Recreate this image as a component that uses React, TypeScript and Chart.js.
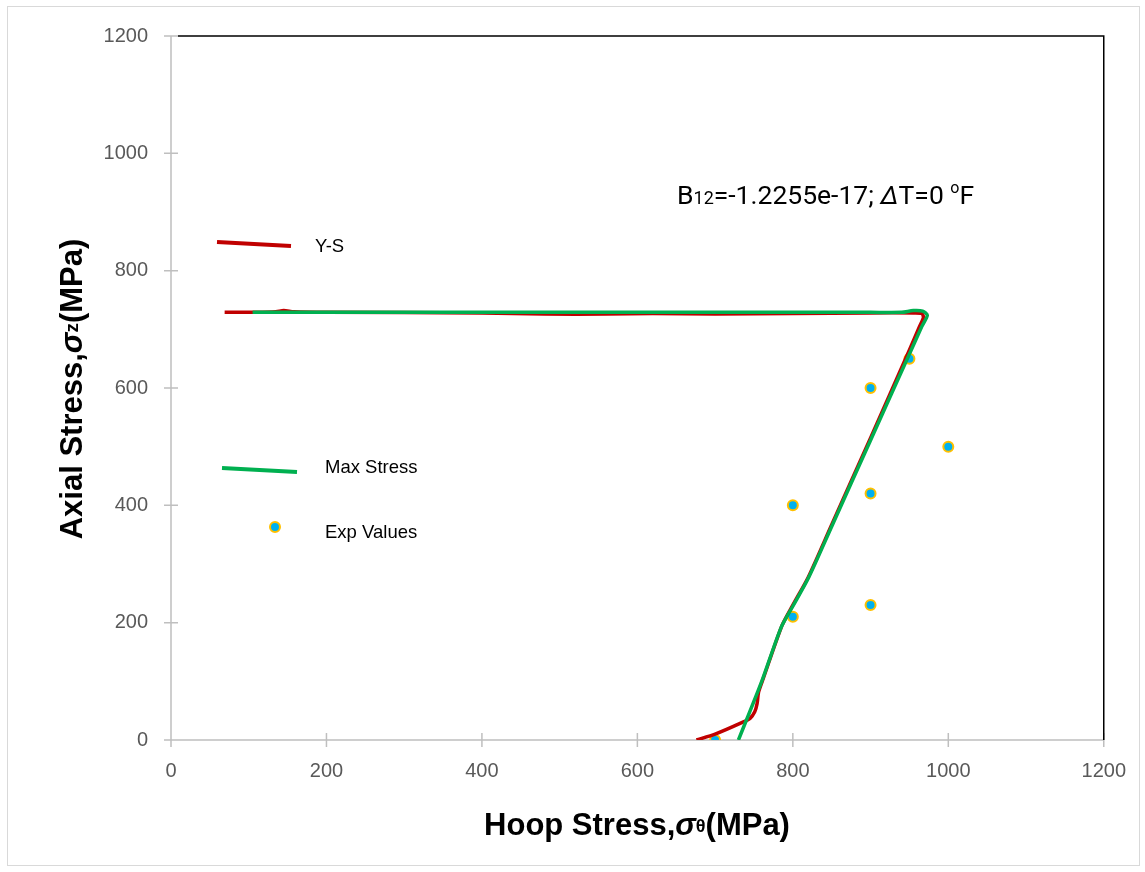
import React, { useEffect, useRef } from "react";
import { Chart, registerables } from "chart.js";

Chart.register(...registerables);

// ---- data ----
const ysX = [676, 700, 735, 745, 751, 754, 756, 762, 786, 800, 820, 850, 900, 950, 963, 968, 966, 955, 900, 800, 700, 620, 560, 480, 400, 200, 158, 145, 135, 110, 69];
const ysY = [0, 10, 30, 37, 48, 62, 82, 105, 195, 230, 278, 367, 515, 665, 705, 720, 727, 728, 728, 727, 726, 727, 726, 726, 728, 729, 730, 732, 730, 729, 729];

const msX = [730, 760, 785, 800, 820, 850, 900, 950, 966, 973, 967, 955, 940, 900, 600, 300, 105];
const msY = [0, 100, 192, 228, 276, 364, 511, 658, 705, 724, 731, 732, 729, 729, 729, 729, 729];

const expX = [700, 800, 800, 900, 900, 900, 950, 1000];
const expY = [0, 210, 400, 230, 420, 600, 650, 500];

const xTickValues = [0, 200, 400, 600, 800, 1000, 1200];
const yTickValues = [0, 200, 400, 600, 800, 1000, 1200];

const seriesNames = ["Y-S", "Max Stress", "Exp Values"];
const annotationText = { b: "B", sub: "12", main: "=-1.2255e-17; ", delta: "Δ", rest: "T=0 ", deg: "o", unit: "F" };

const RED = "#C00000";
const GREEN = "#00B050";
const BLUE = "#00B0F0";
const GOLD = "#FFC000";

type Run = { text: string; font: string; dy?: number };

function drawRuns(ctx: CanvasRenderingContext2D, runs: Run[], x: number, y: number, align: "left" | "center") {
  let total = 0;
  const widths = runs.map((r) => {
    ctx.font = r.font;
    const w = ctx.measureText(r.text).width;
    total += w;
    return w;
  });
  let cx = align === "center" ? x - total / 2 : x;
  ctx.textAlign = "left";
  ctx.textBaseline = "alphabetic";
  runs.forEach((r, i) => {
    ctx.font = r.font;
    ctx.fillText(r.text, cx, y + (r.dy || 0));
    cx += widths[i];
  });
}

const decor = {
  id: "decor",
  beforeDatasetsDraw(chart: any) {
    const { ctx, chartArea, scales } = chart;
    const { left, right, top, bottom } = chartArea;
    ctx.save();
    ctx.strokeStyle = "#d9d9d9";
    ctx.lineWidth = 1;
    ctx.strokeRect(7.5, 6.5, 1132, 859);

    ctx.strokeStyle = "#bfbfbf";
    ctx.lineWidth = 1.5;
    ctx.beginPath();
    ctx.moveTo(left, top);
    ctx.lineTo(left, bottom);
    ctx.lineTo(right, bottom);
    yTickValues.forEach((v) => {
      const py = scales.y.getPixelForValue(v);
      ctx.moveTo(left - 7, py);
      ctx.lineTo(left + 7, py);
    });
    xTickValues.forEach((v) => {
      const px = scales.x.getPixelForValue(v);
      ctx.moveTo(px, bottom - 7);
      ctx.lineTo(px, bottom + 7);
    });
    ctx.stroke();

    ctx.strokeStyle = "#000";
    ctx.lineWidth = 1.5;
    ctx.beginPath();
    ctx.moveTo(left + 7, top);
    ctx.lineTo(right, top);
    ctx.lineTo(right, bottom);
    ctx.stroke();
    ctx.restore();
  },
  afterDraw(chart: any) {
    const { ctx } = chart;
    ctx.save();
    ctx.fillStyle = "#000";
    // axis titles
    const tf = '"Liberation Sans", Arial, sans-serif';
    drawRuns(
      ctx,
      [
        { text: "Hoop Stress,", font: `bold 31px ${tf}` },
        { text: "σ", font: `italic bold 31px ${tf}` },
        { text: "θ", font: `bold 18px ${tf}`, dy: -3 },
        { text: "(MPa)", font: `bold 31px ${tf}` },
      ],
      637,
      835,
      "center"
    );
    ctx.save();
    ctx.translate(82, 389);
    ctx.rotate(-Math.PI / 2);
    drawRuns(
      ctx,
      [
        { text: "Axial Stress,", font: `bold 31px ${tf}` },
        { text: "σ", font: `italic bold 31px ${tf}` },
        { text: "z", font: `bold 19px ${tf}`, dy: -4 },
        { text: "(MPa)", font: `bold 31px ${tf}` },
      ],
      0,
      0,
      "center"
    );
    ctx.restore();

    // annotation
    const af = "Roboto, sans-serif";
    drawRuns(
      ctx,
      [
        { text: annotationText.b, font: `26.5px ${af}` },
        { text: annotationText.sub, font: `18px ${af}` },
        { text: annotationText.main, font: `26.5px ${af}` },
        { text: annotationText.delta, font: `italic 26.5px ${af}` },
        { text: annotationText.rest, font: `26.5px ${af}` },
        { text: annotationText.deg, font: `16px ${af}`, dy: -11 },
        { text: annotationText.unit, font: `26.5px ${af}` },
      ],
      677,
      204,
      "left"
    );

    // legend (embedded in plot)
    ctx.lineCap = "butt";
    ctx.lineWidth = 4;
    ctx.strokeStyle = RED;
    ctx.beginPath();
    ctx.moveTo(217, 242);
    ctx.lineTo(291, 246);
    ctx.stroke();
    ctx.strokeStyle = GREEN;
    ctx.beginPath();
    ctx.moveTo(222, 468);
    ctx.lineTo(297, 472);
    ctx.stroke();
    ctx.beginPath();
    ctx.arc(275, 527, 5, 0, Math.PI * 2);
    ctx.fillStyle = BLUE;
    ctx.fill();
    ctx.lineWidth = 2;
    ctx.strokeStyle = GOLD;
    ctx.stroke();

    ctx.fillStyle = "#000";
    ctx.font = '18.5px "Liberation Sans", Arial, sans-serif';
    ctx.textAlign = "left";
    ctx.textBaseline = "alphabetic";
    ctx.fillText(seriesNames[0], 315, 252);
    ctx.fillText(seriesNames[1], 325, 473);
    ctx.fillText(seriesNames[2], 325, 538);
    ctx.restore();
  },
};

export default function App() {
  const ref = useRef<HTMLCanvasElement | null>(null);
  useEffect(() => {
    document.body.style.margin = "0";
    if (!ref.current) return;
    const tickFont = { family: '"Liberation Sans", Arial, sans-serif', size: 20 };
    const chart = new Chart(ref.current, {
      type: "scatter",
      data: {
        datasets: [
          {
            label: seriesNames[0],
            data: ysX.map((x, i) => ({ x, y: ysY[i] })),
            showLine: true,
            borderColor: RED,
            borderWidth: 3.5,
            pointRadius: 0,
            tension: 0.25,
            fill: false,
            order: 2,
          },
          {
            label: seriesNames[1],
            data: msX.map((x, i) => ({ x, y: msY[i] })),
            showLine: true,
            borderColor: GREEN,
            borderWidth: 3.5,
            pointRadius: 0,
            tension: 0.25,
            fill: false,
            order: 1,
          },
          {
            label: seriesNames[2],
            data: expX.map((x, i) => ({ x, y: expY[i] })),
            showLine: false,
            backgroundColor: BLUE,
            borderColor: GOLD,
            borderWidth: 2,
            pointRadius: 5,
            pointHoverRadius: 5,
            order: 3,
          },
        ],
      },
      options: {
        animation: false,
        responsive: true,
        maintainAspectRatio: false,
        layout: { padding: { top: 36, right: 40, left: 0, bottom: 0 } },
        plugins: { legend: { display: false }, tooltip: { enabled: false } },
        scales: {
          x: {
            type: "linear",
            min: 0,
            max: 1200,
            afterBuildTicks: (s: any) => {
              s.ticks = xTickValues.map((v) => ({ value: v }));
            },
            afterFit: (s: any) => {
              s.height = 132;
            },
            grid: { display: false, drawTicks: false },
            border: { display: false },
            ticks: { font: tickFont, color: "#595959", padding: 19, maxRotation: 0, callback: (v: any) => String(v) },
          },
          y: {
            type: "linear",
            min: 0,
            max: 1200,
            afterBuildTicks: (s: any) => {
              s.ticks = yTickValues.map((v) => ({ value: v }));
            },
            afterFit: (s: any) => {
              s.width = 171;
            },
            grid: { display: false, drawTicks: false },
            border: { display: false },
            ticks: { font: tickFont, color: "#595959", padding: 23, callback: (v: any) => String(v) },
          },
        },
      },
      plugins: [decor],
    });
    return () => chart.destroy();
  }, []);
  return (
    <div style={{ width: 1145, height: 872, position: "relative", background: "#fff" }}>
      <canvas ref={ref} />
    </div>
  );
}
